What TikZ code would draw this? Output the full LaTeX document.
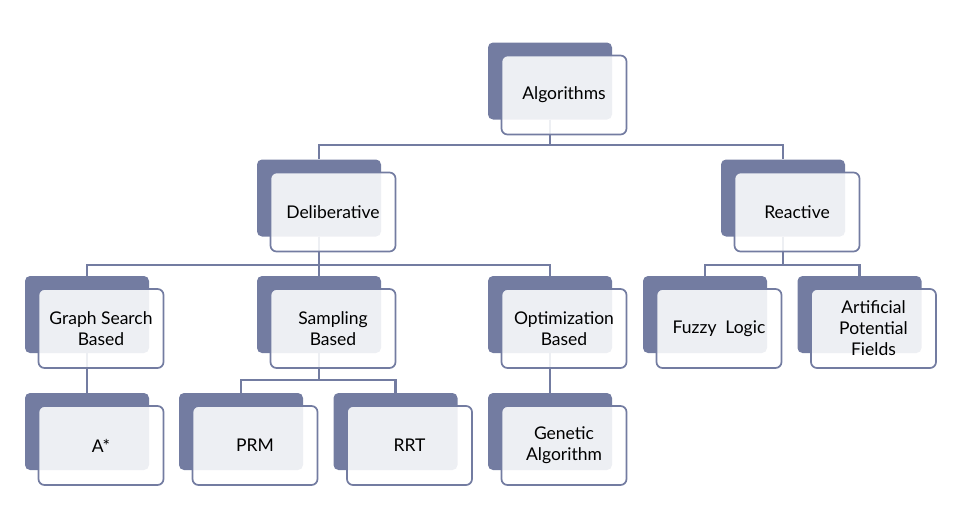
\documentclass[tikz,border=0pt]{standalone}
\usepackage{fontspec}
\setmainfont{Lato}
\usepackage{xcolor}
\usetikzlibrary{positioning}

\definecolor{slate}{RGB}{115,124,161}
\definecolor{paper}{RGB}{255,255,255}

\tikzset{
  backbox/.style={draw=none,fill=slate,rounded corners=5pt,
    minimum width=124pt,minimum height=77pt,inner sep=0pt},
  frontbox/.style={draw=slate,line width=1.7pt,fill=paper,fill opacity=0.88,
    text opacity=1,rounded corners=6pt,minimum width=125pt,minimum height=79pt,
    align=center,font=\fontsize{17.5}{21}\selectfont},
  link/.style={draw=slate,line width=2.1pt}
}

\begin{document}
\begin{tikzpicture}[x=1pt,y=-1pt]
\useasboundingbox (0,0) rectangle (966,522);

% back plates
\node[backbox] (algb) at (550,81) {};
\node[backbox] (delb) at (319,198) {};
\node[backbox] (reab) at (783,198) {};
\node[backbox] (grab) at (87,314.5) {};
\node[backbox] (samb) at (319,314.5) {};
\node[backbox] (optb) at (550,314.5) {};
\node[backbox] (fuzb) at (705,314.5) {};
\node[backbox] (artb) at (859.5,314.5) {};
\node[backbox] (astb) at (87,431.5) {};
\node[backbox] (prmb) at (241,431.5) {};
\node[backbox] (rrtb) at (395.5,431.5) {};
\node[backbox] (genb) at (550,431.5) {};

% connectors
\draw[link] (algb.south) -- ++(0,25) -| (delb.north);
\draw[link] (algb.south) -- ++(0,25) -| (reab.north);
\draw[link] (delb.south) -- ++(0,28) -| (grab.north);
\draw[link] (delb.south) -- (samb.north);
\draw[link] (delb.south) -- ++(0,28) -| (optb.north);
\draw[link] (reab.south) -- ++(0,28) -| (fuzb.north);
\draw[link] (reab.south) -- ++(0,28) -| (artb.north);
\draw[link] (grab.south) -- (astb.north);
\draw[link] (samb.south) -- ++(0,27) -| (prmb.north);
\draw[link] (samb.south) -- ++(0,27) -| (rrtb.north);
\draw[link] (optb.south) -- (genb.north);

% front cards
\node[frontbox] (alg) at ([shift={(14,14)}]algb.center) {Algorithms};
\node[frontbox] (del) at ([shift={(14,14)}]delb.center) {Deliberative};
\node[frontbox] (rea) at ([shift={(14,14)}]reab.center) {Reactive};
\node[frontbox] (gra) at ([shift={(14,14)}]grab.center) {Graph Search\\Based};
\node[frontbox] (sam) at ([shift={(14,14)}]samb.center) {Sampling\\Based};
\node[frontbox] (opt) at ([shift={(14,14)}]optb.center) {Optimization\\Based};
\node[frontbox] (fuz) at ([shift={(14,14)}]fuzb.center) {Fuzzy\ \ Logic};
\node[frontbox] (art) at ([shift={(14,14)}]artb.center) {Artificial\\Potential\\Fields};
\node[frontbox] (ast) at ([shift={(14,14)}]astb.center) {A*};
\node[frontbox] (prm) at ([shift={(14,14)}]prmb.center) {PRM};
\node[frontbox] (rrt) at ([shift={(14,14)}]rrtb.center) {RRT};
\node[frontbox] (gen) at ([shift={(14,14)}]genb.center) {Genetic\\Algorithm};
\end{tikzpicture}
\end{document}
